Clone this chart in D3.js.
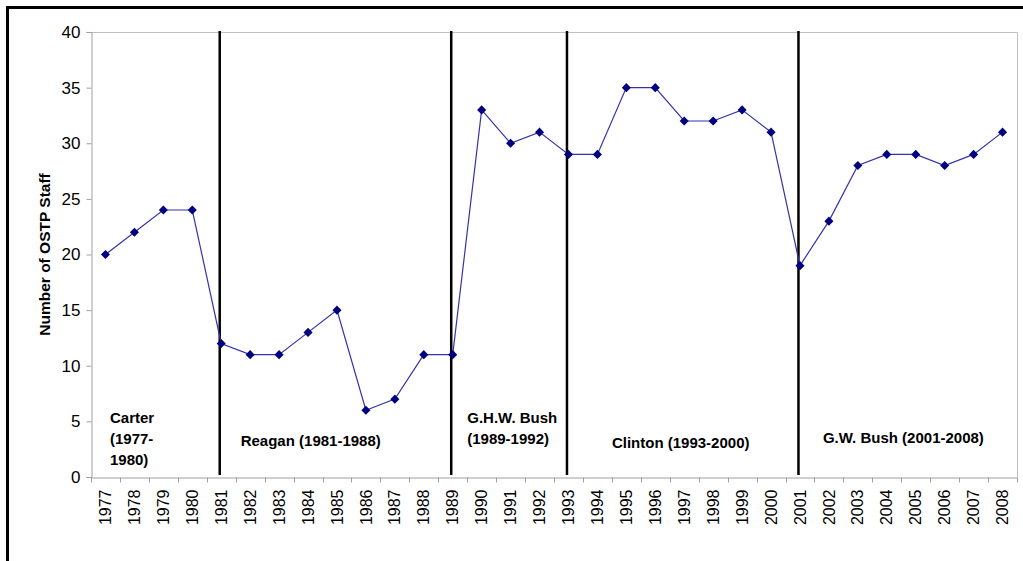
<!DOCTYPE html>
<html><head><meta charset="utf-8">
<script src="https://cdn.jsdelivr.net/npm/d3@7"></script>
<style>html,body{margin:0;padding:0;background:#fff;overflow:hidden}</style>
</head><body>
<script>
const years = ["1977","1978","1979","1980","1981","1982","1983","1984","1985","1986","1987","1988","1989","1990","1991","1992","1993","1994","1995","1996","1997","1998","1999","2000","2001","2002","2003","2004","2005","2006","2007","2008"];
const staff = [20,22,24,24,12,11,11,13,15,6,7,11,11,33,30,31,29,29,35,35,32,32,33,31,19,23,28,29,29,28,29,31];
const yTicks = [0,5,10,15,20,25,30,35,40];
const dividerYears = ["1981","1989","1993","2001"];
const eraLabels = [
  {year:"1977", dx:19, lines:["Carter","(1977-","1980)"], v:4.85},
  {year:"1982", dx:5, lines:["Reagan (1981-1988)"], v:2.8},
  {year:"1989", dx:29, lines:["G.H.W. Bush","(1989-1992)"], v:4.85},
  {year:"1994", dx:29, lines:["Clinton (1993-2000)"], v:2.6},
  {year:"2002", dx:8.5, lines:["G.W. Bush (2001-2008)"], v:3.05}
];

const W=1023,H=561;
const m={left:91,top:32,right:1017,bottom:477};
const svg=d3.select("body").append("svg").attr("width",W).attr("height",H);

// outer frame
svg.append("path").attr("d",`M7.5,${H+5} V7.5 H${W+5}`).attr("fill","none").attr("stroke","#000").attr("stroke-width",3);

const x=d3.scaleBand().domain(years).range([m.left,m.right]);
const y=d3.scaleLinear().domain([0,40]).range([m.bottom,m.top]);
const cx=d=>x(d)+x.bandwidth()/2;

// plot border (top/right)
svg.append("path").attr("d",`M${m.left},${m.top+0.5} H${m.right+0.5} V${m.bottom}`).attr("fill","none").attr("stroke","#c0c0c0").attr("stroke-width",1);

const FONT="Liberation Sans, Arial, sans-serif";
// y axis
const ya=svg.append("g").attr("transform",`translate(${m.left+0.5},0)`)
  .call(d3.axisLeft(y).tickValues(yTicks).tickSize(5).tickPadding(6));
ya.select(".domain").attr("stroke","#a0a0a0");
ya.selectAll(".tick line").attr("stroke","#a0a0a0");
ya.selectAll("text").attr("font-family",FONT).attr("font-size",17).attr("fill","#000");

// x axis
const xa=svg.append("g").attr("transform",`translate(0,${m.bottom+0.5})`)
  .call(d3.axisBottom(x).tickSize(0).tickPadding(0));
xa.select(".domain").attr("stroke","#a0a0a0");
xa.selectAll(".tick line").remove();
const bounds=years.map(d=>x(d)).concat([m.right]);
xa.selectAll("line.b").data(bounds).join("line").attr("class","b")
  .attr("x1",d=>Math.round(d)+0.5).attr("x2",d=>Math.round(d)+0.5).attr("y1",0).attr("y2",5).attr("stroke","#a0a0a0");
xa.selectAll(".tick text").attr("font-family",FONT).attr("font-size",16).attr("fill","#000")
  .attr("transform","rotate(-90)").attr("text-anchor","end").attr("dy","0.35em").attr("x",-12).attr("y",0);

// y title
svg.append("text").attr("transform",`translate(50,${(m.top+m.bottom)/2}) rotate(-90)`)
  .attr("text-anchor","middle").attr("font-family",FONT)
  .attr("font-weight","bold").attr("font-size",15.5).text("Number of OSTP Staff");

// dividers
svg.selectAll("line.div").data(dividerYears).join("line").attr("class","div")
  .attr("x1",d=>cx(d)-1.5).attr("x2",d=>cx(d)-1.5).attr("y1",m.top-1).attr("y2",m.bottom-2)
  .attr("stroke","#000").attr("stroke-width",2.5);

// line
const line=d3.line().x((d,i)=>cx(years[i])).y(d=>y(d));
svg.append("path").datum(staff).attr("d",line).attr("fill","none").attr("stroke","#3333aa").attr("stroke-width",1.2);

// markers
svg.selectAll("path.mk").data(staff).join("path").attr("class","mk")
  .attr("d",d3.symbol().type(d3.symbolDiamond2).size(52))
  .attr("transform",(d,i)=>`translate(${cx(years[i])},${y(d)})`).attr("fill","#000080");

// era labels
eraLabels.forEach(e=>{
  const t=svg.append("text").attr("font-family",FONT).attr("font-weight","bold")
    .attr("font-size",15).attr("fill","#000");
  e.lines.forEach((l,i)=>{
    t.append("tspan").attr("x",x(e.year)+e.dx).attr("y",y(e.v)+i*21).text(l);
  });
});
</script>
</body></html>
